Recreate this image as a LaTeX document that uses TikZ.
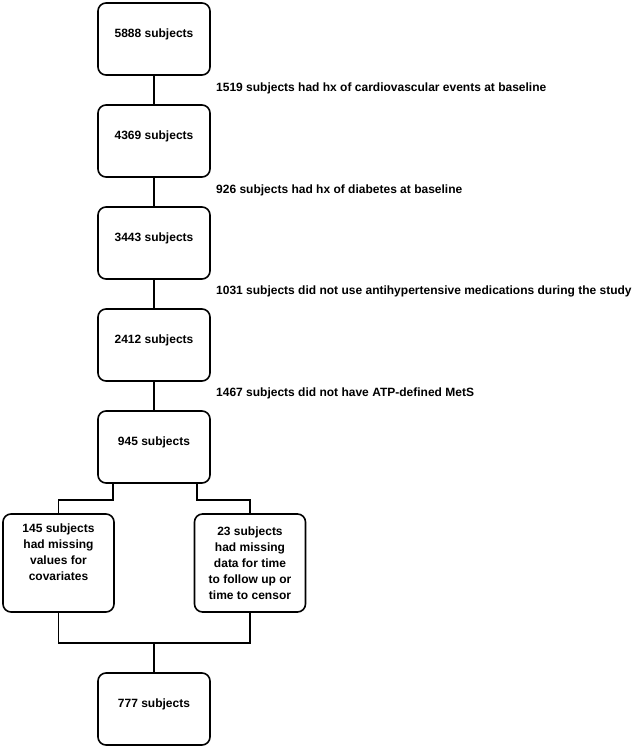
\documentclass[tikz,border=0pt]{standalone}
\usepackage{fontspec}
\setmainfont{Liberation Sans}
\begin{document}
\begin{tikzpicture}[x=1pt,y=1pt,
  box/.style={draw, line width=1.6pt, rounded corners=8pt, minimum width=112pt, minimum height=72pt, text depth=12pt, align=center, font=\bfseries\fontsize{12}{16}\selectfont},
  sbox/.style={draw, line width=1.6pt, rounded corners=8pt, minimum width=111pt, minimum height=98pt, inner sep=1pt, align=center, font=\bfseries\fontsize{12}{16}\selectfont},
  lab/.style={anchor=west, inner sep=0pt, font=\bfseries\fontsize{12}{14}\selectfont},
  conn/.style={line width=1.6pt}]
\useasboundingbox (0,0) rectangle (640,750);
\node[box] (b1) at (154,711) {5888 subjects};
\node[box] (b2) at (154,609) {4369 subjects};
\node[box] (b3) at (154,507) {3443 subjects};
\node[box] (b4) at (154,405) {2412 subjects};
\node[box] (b5) at (154,303) {945 subjects};
\node[sbox] (l) at (58.5,187) {145 subjects\\had missing\\values for\\covariates\\\strut};
\node[sbox] (r) at (250,187) {23 subjects\\had missing\\data for time\\to follow up or\\time to censor};
\node[box] (b6) at (154,41) {777 subjects};
\node[lab] (t1) at (216,662) {1519 subjects had hx of cardiovascular events at baseline};
\node[lab] (t2) at (216,560) {926 subjects had hx of diabetes at baseline};
\node[lab] (t3) at (216,459) {1031 subjects did not use antihypertensive medications during the study};
\node[lab] (t4) at (216,357) {1467 subjects did not have ATP-defined MetS};
\draw[conn] (b1) -- (b2);
\draw[conn] (b2) -- (b3);
\draw[conn] (b3) -- (b4);
\draw[conn] (b4) -- (b5);
\coordinate (sl) at (113,0);
\coordinate (sr) at (197,0);
\coordinate (sy) at (0,250);
\coordinate (jy) at (0,107);
\draw[conn] (b5.south -| sl) -- (sl |- sy) -| (l.north);
\draw[conn] (b5.south -| sr) -- (sr |- sy) -| (r.north);
\draw[conn] (l.south) |- (r.south |- jy) -- (r.south);
\draw[conn] (b6.north |- jy) -- (b6.north);
\end{tikzpicture}
\end{document}
